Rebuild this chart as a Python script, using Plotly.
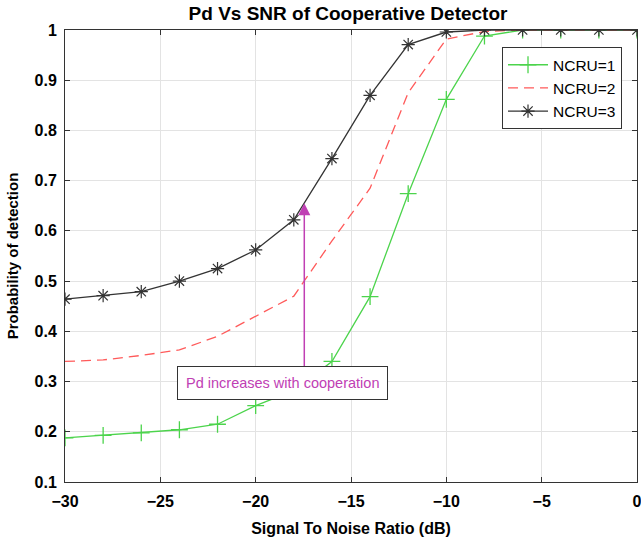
import plotly.graph_objects as go

snr = [-30, -28, -26, -24, -22, -20, -18, -16, -14, -12, -10, -8, -6, -4, -2, 0]
pd_ncru1 = [0.188, 0.193, 0.198, 0.204, 0.215, 0.252, 0.282, 0.34, 0.469, 0.674, 0.862, 0.988, 1.0, 1.0, 1.0, 1.0]
pd_ncru2 = [0.34, 0.343, 0.352, 0.363, 0.39, 0.43, 0.47, 0.58, 0.685, 0.875, 0.982, 0.997, 1.0, 1.0, 1.0, 1.0]
pd_ncru3 = [0.464, 0.471, 0.479, 0.50, 0.525, 0.562, 0.622, 0.744, 0.870, 0.971, 0.996, 1.0, 1.0, 1.0, 1.0, 1.0]
series_names = ["NCRU=1", "NCRU=2", "NCRU=3"]
x_ticks = [-30, -25, -20, -15, -10, -5, 0]
y_ticks = [0.1, 0.2, 0.3, 0.4, 0.5, 0.6, 0.7, 0.8, 0.9, 1.0]
y_tick_labels = ["0.1", "0.2", "0.3", "0.4", "0.5", "0.6", "0.7", "0.8", "0.9", "1"]
annot_text = "Pd increases with cooperation"
arrow_x = -17.45
arrow_from = 0.32
arrow_to = 0.655

FONT = "Liberation Sans, Arial, sans-serif"
MAG = "#c040b4"

fig = go.Figure()
fig.add_trace(go.Scatter(x=snr, y=pd_ncru1, name=series_names[0], mode="lines+markers",
                         line=dict(color="#4cd44c", width=1.3),
                         marker=dict(symbol="cross-thin-open", size=12,
                                     line=dict(color="#4cd44c", width=1.3))))
fig.add_trace(go.Scatter(x=snr, y=pd_ncru2, name=series_names[1], mode="lines",
                         line=dict(color="#ff5a5a", width=1.3, dash="10px,6px")))
fig.add_trace(go.Scatter(x=snr, y=pd_ncru3, name=series_names[2], mode="lines+markers",
                         line=dict(color="#333333", width=1.3),
                         marker=dict(symbol="asterisk-open", size=11,
                                     line=dict(color="#222222", width=1.2))))

# arrow
fig.add_annotation(x=arrow_x, y=arrow_to, ax=arrow_x, ay=arrow_from,
                   xref="x", yref="y", axref="x", ayref="y",
                   text="", showarrow=True, arrowhead=2, arrowsize=1.6,
                   arrowwidth=1.5, arrowcolor=MAG)
# text box
fig.add_annotation(x=-18.6, y=0.297, xref="x", yref="y", text=annot_text,
                   showarrow=False, font=dict(family=FONT, size=14.5, color=MAG),
                   bgcolor="white", bordercolor="#333333", borderwidth=1,
                   borderpad=8, xanchor="center", yanchor="middle")

axis_common = dict(showgrid=True, gridcolor="#e3e3e3", gridwidth=1,
                   showline=True, linecolor="#333333", linewidth=1,
                   mirror="allticks", ticks="inside", ticklen=5,
                   tickcolor="#333333", zeroline=False,
                   ticklabeloverflow="allow", automargin=False,
                   tickfont=dict(family=FONT, size=16, color="black", weight="bold"))

fig.update_layout(
    width=641, height=543,
    margin=dict(l=65, r=4, t=30, b=61),
    paper_bgcolor="white", plot_bgcolor="white",
    title=dict(text="<b>Pd Vs SNR of Cooperative Detector</b>",
               x=348 / 641, xanchor="center",
               y=1 - 13 / 543, yanchor="middle",
               font=dict(family=FONT, size=19, color="black")),
    xaxis=dict(range=[-30, 0], tickvals=x_ticks, ticklabelstandoff=5,
               title=dict(text="<b>Signal To Noise Ratio (dB)</b>",
                          font=dict(family=FONT, size=16, color="black"),
                          standoff=13),
               **axis_common),
    yaxis=dict(range=[0.1, 1.0], tickvals=y_ticks, ticktext=y_tick_labels,
               ticklabelstandoff=4,
               title=dict(text="<b>Probability of detection</b>",
                          font=dict(family=FONT, size=15, color="black"),
                          standoff=12),
               **axis_common),
    legend=dict(x=0.764, y=0.962, xanchor="left", yanchor="top",
                bgcolor="white", bordercolor="#333333", borderwidth=1,
                font=dict(family=FONT, size=15.5, color="black"),
                itemwidth=40, tracegroupgap=0),
    showlegend=True,
)

fig.write_html("out.html", config={"displayModeBar": False},
               post_script="document.body.style.margin='0px';")
